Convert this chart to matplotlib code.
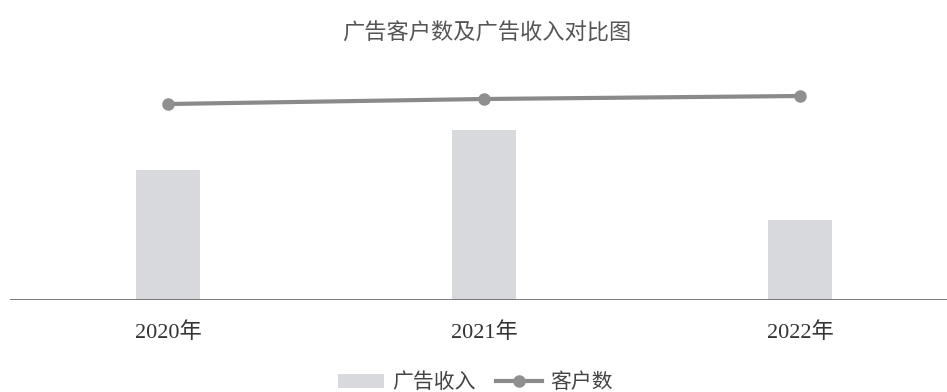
import matplotlib.pyplot as plt
import numpy as np

# 数据
years = ['2020年', '2021年', '2022年']
ad_income = [6.5, 8.5, 4.0]
customers = [98.0, 100.5, 102.0]

fonts = ['Liberation Serif', 'Noto Sans CJK SC']

fig = plt.figure(figsize=(9.47, 3.92), dpi=100)
ax = fig.add_axes([10 / 947, 92 / 392, 948 / 947, 230 / 392])
ax2 = ax.twinx()

x = np.arange(len(years))
bars = ax.bar(x, ad_income, width=0.2, color='#d8d9dc', label='广告收入', zorder=2)
line, = ax2.plot(x, customers, color='#8a8a8a', linewidth=3, marker='o',
                 markersize=8, markerfacecolor='#8f8f8f', markeredgecolor='#8f8f8f',
                 label='客户数', zorder=3)

ax.set_xlim(-0.5, 2.5)
ax.set_ylim(0, 11.5)
ax2.set_ylim(0, 115)

# 坐标轴样式
for a in (ax, ax2):
    for s in a.spines.values():
        s.set_visible(False)
    a.set_yticks([])
ax.axhline(0, color='#6f6f6f', linewidth=1.3, zorder=4)

ax.set_xticks(x)
ax.set_xticklabels(years, family=fonts, fontsize=16, color='#333333')
ax.tick_params(axis='x', length=0, pad=16)

fig.text(0.514, 0.913, '广告客户数及广告收入对比图', family=fonts, fontsize=16,
         color='#555555', ha='center', va='center')

fig.legend([bars, line], ['广告收入', '客户数'], loc='center', bbox_to_anchor=(0.502, 0.022),
           ncol=2, frameon=False, prop={'family': fonts, 'size': 15},
           handlelength=2.2, columnspacing=1.0, handletextpad=0.4, labelcolor='#444444')

fig.savefig('out.png', dpi=100)
